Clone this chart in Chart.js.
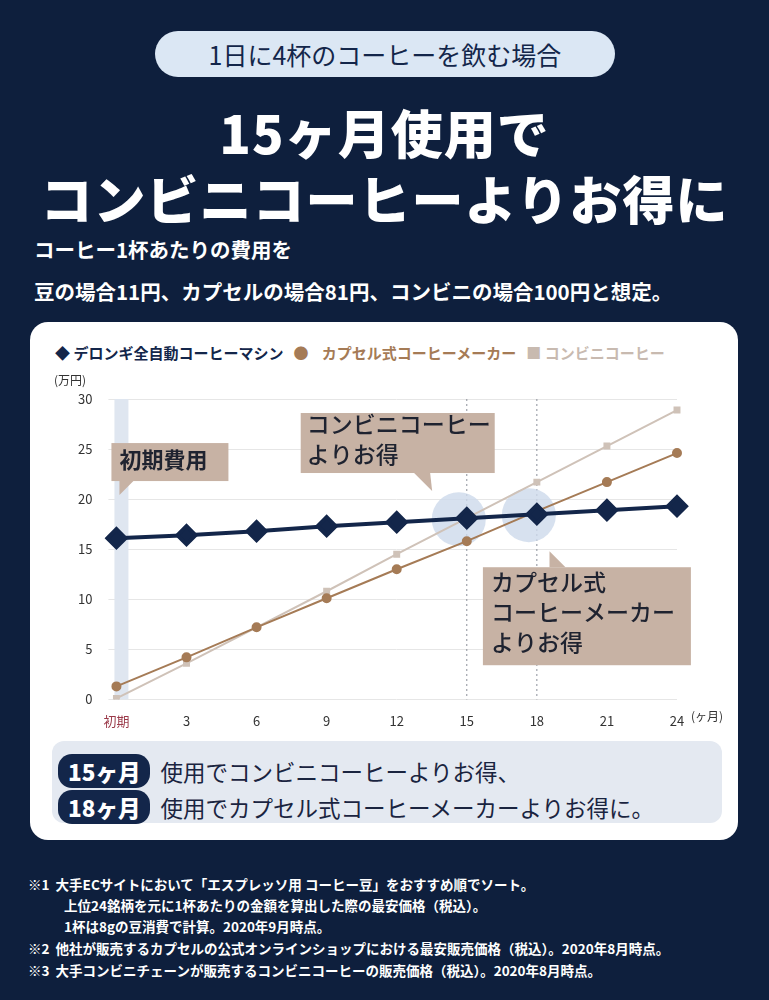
<!DOCTYPE html>
<html><head><meta charset="utf-8">
<script src="https://cdn.jsdelivr.net/npm/chart.js@4"></script>
<style>
body{margin:0;width:769px;height:1000px;background:#0e1f3d;font-family:"Noto Sans CJK JP","Noto Sans",sans-serif;position:relative;overflow:hidden;color:#fff}
.pill{position:absolute;left:155px;top:31px;width:460px;height:46px;border-radius:23px;background:#dbe7f4;color:#13264a;font-size:25px;text-align:center;line-height:46px}
.h{position:absolute;left:0;width:769px;text-align:center;font-weight:900;font-size:52px;letter-spacing:1px}
.sub{position:absolute;left:34px;font-weight:700;font-size:20.5px}
.card{position:absolute;left:30px;top:322px;width:708px;height:518px;background:#fff;border-radius:18px}
.legend{position:absolute;left:55px;top:342px;font-size:15px;font-weight:700;color:#1a2440;white-space:nowrap}
.legend span{margin-right:10px}
#wrap{position:absolute;left:40px;top:365px;width:700px;height:370px}
.box{position:absolute;left:52px;top:741px;width:670px;height:82px;background:#e4e9f1;border-radius:12px}
.row{position:absolute;left:58px;font-size:22.5px;color:#1a2440;white-space:nowrap}
.tag{display:inline-block;background:#13264a;color:#fff;font-weight:900;border-radius:14px;padding:0 10px;margin-right:10px;height:34px;line-height:34px}
.fn{position:absolute;font-size:13.5px;font-weight:700;white-space:nowrap}
</style></head><body>
<div class="pill">1日に4杯のコーヒーを飲む場合</div>
<div class="h" style="top:94px">15ヶ月使用で</div>
<div class="h" style="top:160px">コンビニコーヒーよりお得に</div>
<div class="sub" style="top:234px">コーヒー1杯あたりの費用を</div>
<div class="sub" style="top:276px">豆の場合11円、カプセルの場合81円、コンビニの場合100円と想定。</div>
<div class="card"></div>
<div class="legend"><span style="color:#13264a">◆ デロンギ全自動コーヒーマシン</span><span style="color:#a57b56">●</span><span style="color:#a57b56"> カプセル式コーヒーメーカー</span><span style="color:#c8bab0">■ コンビニコーヒー</span></div>
<div id="wrap"><canvas id="c"></canvas></div>
<div class="box"></div>
<div class="row" style="top:754px"><span class="tag">15ヶ月</span>使用でコンビニコーヒーよりお得、</div>
<div class="row" style="top:790px"><span class="tag">18ヶ月</span>使用でカプセル式コーヒーメーカーよりお得に。</div>
<div class="fn" style="left:28px;top:874px">※1&nbsp;&nbsp;大手ECサイトにおいて「エスプレッソ用 コーヒー豆」をおすすめ順でソート。</div>
<div class="fn" style="left:64px;top:895px">上位24銘柄を元に1杯あたりの金額を算出した際の最安価格（税込）。</div>
<div class="fn" style="left:64px;top:916px">1杯は8gの豆消費で計算。2020年9月時点。</div>
<div class="fn" style="left:28px;top:938px">※2&nbsp;&nbsp;他社が販売するカプセルの公式オンラインショップにおける最安販売価格（税込）。2020年8月時点。</div>
<div class="fn" style="left:28px;top:960px">※3&nbsp;&nbsp;大手コンビニチェーンが販売するコンビニコーヒーの販売価格（税込）。2020年8月時点。</div>
<script>
const months = ["初期","3","6","9","12","15","18","21","24"];
const delonghi = [16.1,16.4,16.8,17.3,17.7,18.1,18.5,18.9,19.3];
const capsule = [1.3,4.2,7.2,10.1,13.0,15.8,18.8,21.7,24.6];
const conveni = [0.1,3.6,7.2,10.8,14.5,18.1,21.7,25.3,28.9];
const yTicks = [0,5,10,15,20,25,30];
const font = '"Noto Sans CJK JP","Noto Sans",sans-serif';
const deco = {
  id:'deco',
  beforeDatasetsDraw(ch){
    const {ctx,scales:{x,y}}=ch;
    ctx.save();
    ctx.fillStyle='#dfe6f0';
    ctx.fillRect(x.getPixelForValue(0)-2,y.getPixelForValue(30),14,y.getPixelForValue(0)-y.getPixelForValue(30));
    ctx.setLineDash([2,3]);ctx.strokeStyle='#8a8f99';ctx.lineWidth=1;
    [5,6].forEach(i=>{const px=x.getPixelForValue(i);ctx.beginPath();ctx.moveTo(px,y.getPixelForValue(30));ctx.lineTo(px,y.getPixelForValue(0));ctx.stroke();});
    ctx.setLineDash([]);
    ctx.fillStyle='rgba(205,218,235,0.8)';
    [[5,18.1],[6,18.5]].forEach(([i,v])=>{ctx.beginPath();ctx.arc(x.getPixelForValue(i)-8,y.getPixelForValue(v)+1,27,0,Math.PI*2);ctx.fill();});
    ctx.restore();
  },
  afterDatasetsDraw(ch){
    const {ctx,scales:{x,y}}=ch;
    ctx.save();
    ctx.fillStyle='#c7b2a4';
    let x0=x.getPixelForValue(0)-5, yt=y.getPixelForValue(25.6);
    ctx.fillRect(x0,yt,117,38);
    ctx.beginPath();ctx.moveTo(x0+8,yt+38);ctx.lineTo(x0+22,yt+38);ctx.lineTo(x0+8,yt+52);ctx.fill();
    let cx=x.getPixelForValue(2.63), cy=y.getPixelForValue(28.6);
    ctx.fillRect(cx,cy,194,60);
    let tx=x.getPixelForValue(4.42);
    ctx.beginPath();ctx.moveTo(tx-12,cy+60);ctx.lineTo(tx+4,cy+60);ctx.lineTo(tx+6,cy+78);ctx.fill();
    let kx=x.getPixelForValue(5.23), ky=y.getPixelForValue(13.2);
    ctx.fillRect(kx,ky,208,98);
    let sx=x.getPixelForValue(6.18);
    ctx.beginPath();ctx.moveTo(sx,ky);ctx.lineTo(sx,ky-16);ctx.lineTo(sx+16,ky);ctx.fill();
    ctx.fillStyle='#1f2330';ctx.textBaseline='top';
    ctx.font='700 22px '+font;ctx.fillText('初期費用',x0+8,yt+6);
    ctx.font='500 23px '+font;
    ctx.fillText('コンビニコーヒー',cx+6,cy+0);
    ctx.fillText('よりお得',cx+6,cy+30);
    ctx.fillText('カプセル式',kx+8,ky+4);
    ctx.fillText('コーヒーメーカー',kx+8,ky+34);
    ctx.fillText('よりお得',kx+8,ky+64);
    ctx.restore();
  }
};
new Chart(document.getElementById('c'),{
  type:'line',
  data:{labels:months,datasets:[
    {data:conveni,borderColor:'#cfc2b8',backgroundColor:'#cfc2b8',borderWidth:2,pointStyle:'rect',pointRadius:3.5,order:3},
    {data:capsule,borderColor:'#a57b56',backgroundColor:'#a57b56',borderWidth:2,pointStyle:'circle',pointRadius:4,order:2},
    {data:delonghi,borderColor:'#13264a',backgroundColor:'#13264a',borderWidth:4,pointStyle:'rectRot',pointRadius:9,order:1}
  ]},
  options:{responsive:true,maintainAspectRatio:false,animation:false,
    layout:{padding:{left:22,right:63,top:34,bottom:0}},
    plugins:{legend:{display:false},tooltip:{enabled:false}},
    scales:{
      x:{offset:false,grid:{display:false},border:{display:false},
         ticks:{color:c=>c.index===0?'#9b3a4a':'#333',font:{family:font,size:13},padding:6}},
      y:{min:0,max:30,afterBuildTicks:s=>{s.ticks=yTicks.map(v=>({value:v}));},
         grid:{color:'#e6e6e6'},border:{display:false},
         ticks:{color:'#333',font:{family:font,size:13},padding:16}}
    }},
  plugins:[deco,{id:'unit',afterDraw(ch){const {ctx,scales:{x,y}}=ch;ctx.save();ctx.fillStyle='#333';ctx.font='12px '+font;
    ctx.textAlign='left';ctx.fillText('(万円)',14,y.getPixelForValue(30)-14);
    ctx.fillText('(ヶ月)',x.getPixelForValue(8)+14,y.getPixelForValue(0)+22);ctx.restore();}}]
});
</script>
</body></html>
